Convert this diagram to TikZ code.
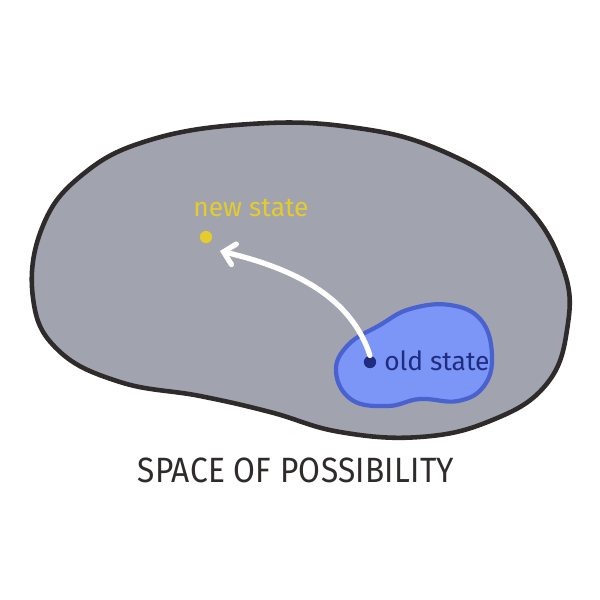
\documentclass[tikz,border=0pt]{standalone}
\usepackage{fontspec}
\setmainfont{Fira Sans}
\usetikzlibrary{arrows.meta}
\definecolor{spacegray}{HTML}{A1A3AF}
\definecolor{outline}{HTML}{2E2B2A}
\definecolor{blobfill}{HTML}{7B96F6}
\definecolor{blobedge}{HTML}{4A62CF}
\definecolor{navy}{HTML}{1F2C80}
\definecolor{gold}{HTML}{E5CC2A}
\tikzset{
  space/.style={fill=spacegray, draw=outline, line width=2.6pt, line join=round},
  region/.style={fill=blobfill, draw=blobedge, line width=2.4pt, line join=round},
  dot/.style={circle, inner sep=0pt, minimum size=7pt},
  lbl/.style={inner sep=0pt, font=\fontsize{15}{15}\selectfont},
  move/.style={draw=white, line width=3pt, line cap=round, -{Straight Barb[length=6pt, width=12pt, line width=3pt, line cap=round]}}
}
\begin{document}
\begin{tikzpicture}[x=0.02cm, y=-0.02cm]
\useasboundingbox (0,0) rectangle (600,600);
\fill[white] (0,0) rectangle (600,600);
\draw[space] plot[smooth cycle, tension=0.7] coordinates {
 (33,298) (42,228) (82,175) (150,140) (250,124) (350,127) (440,150) (520,200) (563,268) (567,330) (545,386) (490,421) (420,437) (340,432) (270,412) (200,396) (120,382) (58,350)};
\draw[region] plot[smooth cycle, tension=0.7] coordinates {
 (336,372) (348,345) (380,325) (410,309) (450,305) (481,320) (492,355) (484,386) (458,401) (420,399) (388,406) (352,400)};
\node[dot, fill=navy] (old) at (370,362) {};
\node[lbl, text=navy, anchor=west] (oldlbl) at (384,361) {old state};
\node[dot, fill=gold] (new) at (206,237) {};
\node[lbl, text=gold] (newlbl) at (251,208) {new state};
\draw[move] (old.north) .. controls (352,300) and (300,270) .. ([shift={(14,14)}]new.center);
\node[inner sep=0pt, text=outline, font=\fontsize{20}{20}\selectfont] (title) at (296,470) {\scalebox{0.9}[1]{\addfontfeature{LetterSpace=1}SPACE OF POSSIBILITY}};
\end{tikzpicture}
\end{document}
